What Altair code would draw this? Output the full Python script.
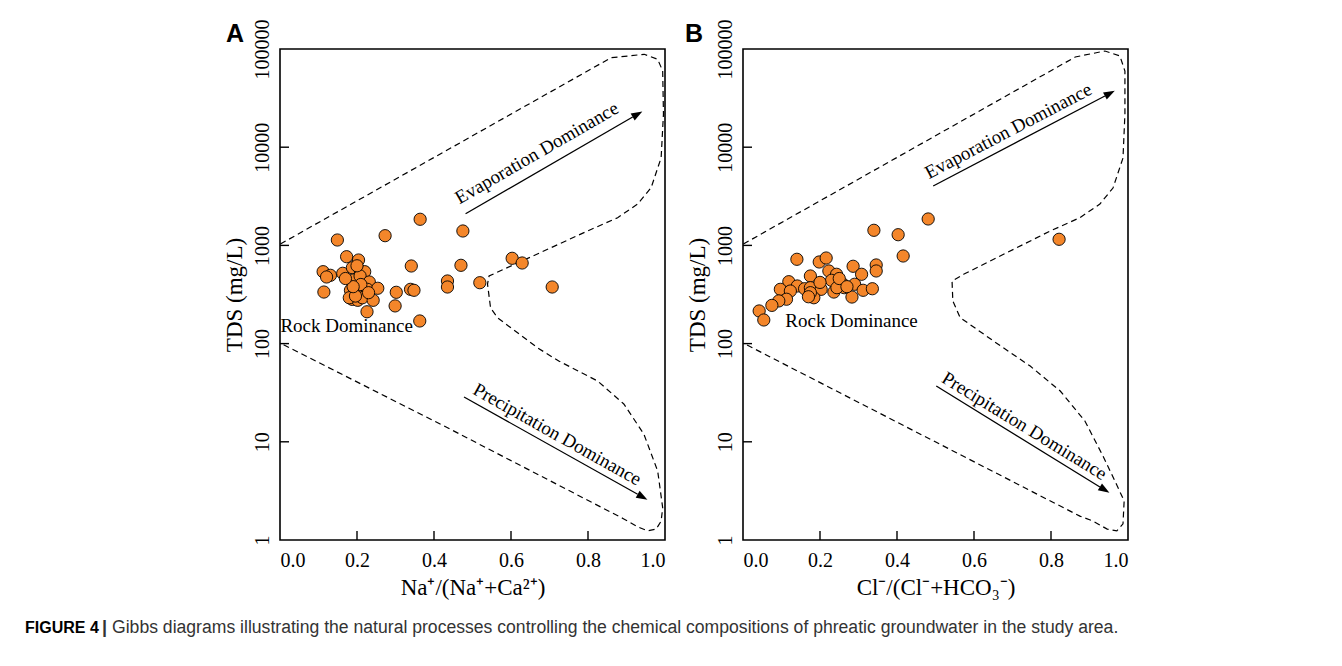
import altair as alt
import pandas as pd

# ---------------- data ----------------
a_ratio = [0.364, 0.475, 0.273, 0.149, 0.173, 0.204, 0.603, 0.629, 0.341, 0.470,
           0.112, 0.131, 0.121, 0.163, 0.188, 0.209, 0.220, 0.190, 0.208, 0.232,
           0.435, 0.435, 0.519, 0.707, 0.114, 0.183, 0.202, 0.227, 0.254, 0.302,
           0.339, 0.348, 0.188, 0.202, 0.214, 0.242, 0.299, 0.226, 0.363, 0.180,
           0.196, 0.210, 0.190, 0.230, 0.200, 0.170]
a_tds = [1845, 1402, 1256, 1135, 767, 710, 739, 662, 617, 627,
         540, 496, 477, 520, 593, 549, 540, 444, 488, 424,
         434, 377, 417, 377, 335, 349, 357, 357, 366, 333,
         357, 349, 282, 276, 293, 276, 242, 211, 170, 293,
         305, 400, 380, 330, 620, 460]

b_ratio = [0.481, 0.340, 0.403, 0.821, 0.416, 0.140, 0.198, 0.216, 0.286, 0.346,
           0.346, 0.223, 0.243, 0.308, 0.175, 0.230, 0.260, 0.290, 0.119, 0.141,
           0.097, 0.123, 0.160, 0.175, 0.203, 0.236, 0.263, 0.312, 0.336, 0.283,
           0.184, 0.113, 0.093, 0.075, 0.042, 0.054, 0.175, 0.244, 0.200, 0.250,
           0.270, 0.170]
b_tds = [1858, 1425, 1285, 1154, 780, 722, 678, 744, 613, 632,
         549, 549, 508, 508, 488, 441, 402, 402, 427, 386,
         357, 343, 362, 371, 357, 335, 371, 349, 362, 298,
         293, 283, 272, 245, 215, 174, 330, 371, 420, 460,
         380, 300]

# Gibbs boundary envelopes (dashed)
a_bound_x = [0.001, 0.860, 0.946, 0.981, 0.994, 0.996, 0.990, 0.964, 0.929, 0.877,
             0.799, 0.543, 0.539, 0.547, 0.566, 0.670, 0.724, 0.825, 0.893, 0.945,
             0.981, 0.994, 0.990, 0.977, 0.955, 0.929, 0.893, 0.426, 0.001]
a_bound_y = [1033, 81500, 88300, 78500, 59700, 21800, 7820, 3870, 2640, 1915,
             1402, 488, 404, 230, 182, 90, 66.5, 41.6, 24.3, 12.0,
             5.04, 2.13, 1.56, 1.29, 1.24, 1.36, 1.64, 14.5, 101]
b_bound_x = [0.001, 0.863, 0.940, 0.979, 0.992, 0.992, 0.987, 0.961, 0.927, 0.875,
             0.798, 0.573, 0.543, 0.545, 0.564, 0.651, 0.746, 0.824, 0.888, 0.935,
             0.966, 0.990, 0.987, 0.971, 0.946, 0.909, 0.875, 0.001]
b_bound_y = [1033, 82900, 95400, 84900, 59700, 21800, 7760, 3840, 2640, 1915,
             1402, 508, 434, 272, 184, 106, 59, 32.9, 16.3, 7.17,
             3.99, 2.50, 1.46, 1.24, 1.29, 1.56, 1.75, 101]

# annotations: arrows (start x, start y, end x, end y, head angle)
a_arrow_x = [0.482, 0.478]
a_arrow_y = [2103, 28.6]
a_arrow_x2 = [0.916, 0.929]
a_arrow_y2 = [20310, 2.92]
a_arrow_head = [59.9, 119.3]
b_arrow_x = [0.494, 0.502]
b_arrow_y = [4027, 37]
b_arrow_x2 = [0.940, 0.927]
b_arrow_y2 = [33200, 3.47]
b_arrow_head = [62.4, 121.5]

ann_text = ["Evaporation Dominance", "Precipitation Dominance"]
a_ann_x = [0.667, 0.720]
a_ann_y = [8730, 11.9]
a_ann_angle = [330, 29.3]
b_ann_x = [0.689, 0.731]
b_ann_y = [14620, 14.5]
b_ann_angle = [332.4, 31.5]

rock_text = "Rock Dominance"
a_rock = (0.001, 151)
b_rock = (0.110, 170)

x_ticks = [0.0, 0.2, 0.4, 0.6, 0.8, 1.0]
y_ticks = [1, 10, 100, 1000, 10000, 100000]
inner_x_ticks = [0.2, 0.4, 0.6, 0.8]
inner_y_ticks = [10, 100, 1000, 10000]

caption_bold = "FIGURE 4"
caption_bar = "|"
caption_rest = ("Gibbs diagrams illustrating the natural processes controlling the chemical "
                "compositions of phreatic groundwater in the study area.")

# ---------------- style ----------------
SERIF = "Liberation Serif"
SANS = "Liberation Sans"
W, H = 385, 491
ORANGE = "#F4862A"


def panel(letter, letter_dx, xtitle, px, py, bx, by, ax, ay, ax2, ay2, ahead,
          tx, ty, tang, rock, caption=False):
    xs = alt.Scale(domain=[0, 1], nice=False, zero=False)
    ys = alt.Scale(type="log", domain=[1, 100000], nice=False)
    xaxis = alt.Axis(values=x_ticks, format=".1f", title=xtitle, ticks=False, domain=False,
                     grid=False, labelFont=SERIF, labelFontSize=20, labelPadding=10,
                     labelColor="black", titleFont=SERIF, titleFontSize=23,
                     titleFontWeight="normal", titleColor="black", titlePadding=6)
    yaxis = alt.Axis(values=y_ticks, format="d", title="TDS (mg/L)", ticks=False, domain=False,
                     grid=False, labelFont=SERIF, labelFontSize=20, labelAngle=270,
                     labelAlign="center", labelBaseline="alphabetic", labelPadding=12,
                     labelColor="black", titleFont=SERIF, titleFontSize=23,
                     titleFontWeight="normal", titleColor="black", titlePadding=6)

    def X(f):
        return alt.X(f, scale=xs, axis=xaxis, title=xtitle)

    def Y(f):
        return alt.Y(f, scale=ys, axis=yaxis, title="TDS (mg/L)")

    bdf = pd.DataFrame({"x": bx, "y": by, "i": list(range(len(bx)))})
    boundary = alt.Chart(bdf).mark_line(color="black", strokeWidth=1.2,
                                         strokeDash=[6, 4]).encode(
        x=X("x:Q"), y=Y("y:Q"), order="i:Q")

    pdf = pd.DataFrame({"x": px, "y": py})
    pts = alt.Chart(pdf).mark_circle(size=150, color=ORANGE, opacity=1, stroke="black",
                                     strokeWidth=0.9).encode(x=X("x:Q"), y=Y("y:Q"))

    adf = pd.DataFrame({"x": ax, "y": ay, "x2": ax2, "y2": ay2, "a": ahead})
    shafts = alt.Chart(adf).mark_rule(color="black", strokeWidth=1.3).encode(
        x=X("x:Q"), y=Y("y:Q"), x2="x2:Q", y2="y2:Q")
    heads = alt.Chart(adf).mark_point(shape="M0,-1L0.36,0L-0.36,0Z", filled=True,
                                      color="black", opacity=1, size=500).encode(
        x=X("x2:Q"), y=Y("y2:Q"), angle=alt.Angle("a:Q", scale=None))

    tdf = pd.DataFrame({"x": tx, "y": ty, "t": ann_text})
    texts = []
    for k in range(len(tx)):
        texts.append(alt.Chart(tdf.iloc[[k]]).mark_text(
            font=SERIF, fontSize=19, angle=tang[k], align="center",
            baseline="middle", color="black").encode(x=X("x:Q"), y=Y("y:Q"), text="t:N"))

    rdf = pd.DataFrame({"x": [rock[0]], "y": [rock[1]], "t": [rock_text]})
    rock_t = alt.Chart(rdf).mark_text(font=SERIF, fontSize=19, align="left",
                                      baseline="middle", color="black").encode(
        x=X("x:Q"), y=Y("y:Q"), text="t:N")

    xt = alt.Chart(pd.DataFrame({"x": inner_x_ticks})).mark_rule(
        color="black", strokeWidth=1.4).encode(
        x=X("x:Q"), y=alt.value(H), y2=alt.value(H - 9))
    yt = alt.Chart(pd.DataFrame({"y": inner_y_ticks})).mark_rule(
        color="black", strokeWidth=1.4).encode(
        y=Y("y:Q"), x=alt.value(0), x2=alt.value(9))

    lab = alt.Chart(pd.DataFrame({"t": [letter]})).mark_text(
        font=SANS, fontSize=25, fontWeight="bold", align="center", baseline="middle",
        color="black").encode(text="t:N", x=alt.value(letter_dx), y=alt.value(-15))

    layers = [boundary, xt, yt, shafts, heads] + texts + [rock_t, pts, lab]

    if caption:
        c1 = alt.Chart(pd.DataFrame({"t": [caption_bold]})).mark_text(
            font=SANS, fontSize=16, fontWeight="bold", align="left", baseline="middle",
            color="black").encode(text="t:N", x=alt.value(-255), y=alt.value(579))
        c2 = alt.Chart(pd.DataFrame({"t": [caption_bar]})).mark_text(
            font=SANS, fontSize=18, fontWeight="bold", align="left", baseline="middle",
            color="#333333").encode(text="t:N", x=alt.value(-178), y=alt.value(579))
        c3 = alt.Chart(pd.DataFrame({"t": [caption_rest]})).mark_text(
            font=SANS, fontSize=17.6, align="left", baseline="middle",
            color="#333333").encode(text="t:N", x=alt.value(-168), y=alt.value(579))
        layers += [c1, c2, c3]

    return alt.layer(*layers).properties(width=W, height=H)


panel_a = panel("A", -45, "Na⁺/(Na⁺+Ca²⁺)", a_ratio, a_tds, a_bound_x, a_bound_y,
                a_arrow_x, a_arrow_y, a_arrow_x2, a_arrow_y2, a_arrow_head,
                a_ann_x, a_ann_y, a_ann_angle, a_rock, caption=True)
panel_b = panel("B", -49, "Cl⁻/(Cl⁻+HCO₃⁻)", b_ratio, b_tds, b_bound_x, b_bound_y,
                b_arrow_x, b_arrow_y, b_arrow_x2, b_arrow_y2, b_arrow_head,
                b_ann_x, b_ann_y, b_ann_angle, b_rock)

chart = alt.hconcat(panel_a, panel_b, spacing=78, bounds="flush").properties(
    padding={"left": 16, "top": 10, "right": 5, "bottom": 5}
).configure_view(stroke="black", strokeWidth=1.6)

chart.save("out.html", embed_options={"renderer": "svg", "actions": False})
